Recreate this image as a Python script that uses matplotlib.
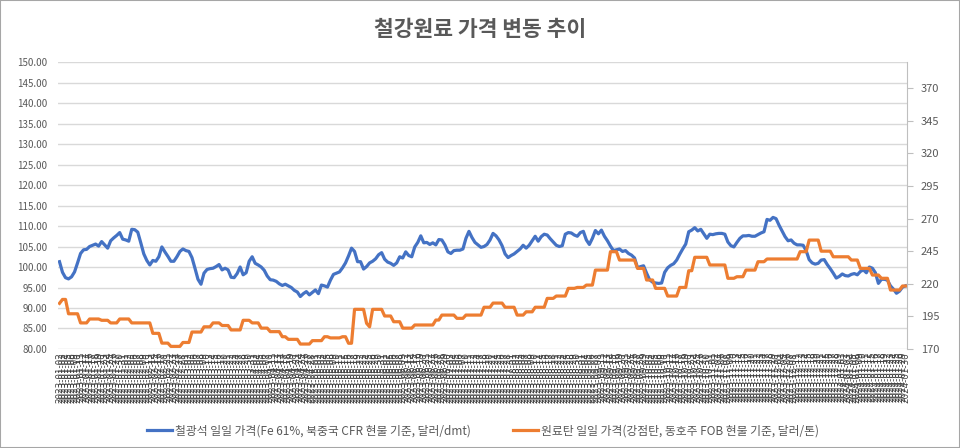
import matplotlib
matplotlib.use('Agg')
import matplotlib.pyplot as plt
import pandas as pd
from matplotlib.patches import Rectangle

plt.rcParams['font.family'] = ['Noto Sans CJK KR', 'DejaVu Sans']

# 일별 날짜 (영업일 기준)
dates = pd.bdate_range('2023-01-02', periods=282)
date_labels = [d.strftime('%Y-%m-%d') for d in dates]

# 철광석 일일 가격 (달러/dmt) - 좌축
iron_ore = [
    101.3, 98.7, 97.4, 97.1, 97.6, 98.8, 101.0, 103.3, 104.2, 104.3,
    105.0, 105.3, 105.6, 105.1, 106.2, 105.4, 104.6, 106.4, 107.1, 107.7,
    108.4, 106.8, 106.6, 106.3, 109.2, 109.1, 108.5, 105.9, 103.2, 101.6,
    100.5, 101.6, 101.4, 102.5, 104.9, 103.7, 102.6, 101.4, 101.4, 102.5,
    103.8, 104.4, 104.0, 103.8, 102.3, 99.7, 97.0, 95.8, 98.5, 99.4,
    99.6, 99.7, 100.1, 100.6, 99.3, 99.7, 99.3, 97.5, 97.4, 98.4,
    100.0, 98.1, 98.6, 101.4, 102.5, 100.9, 100.5, 100.0, 99.2, 97.8,
    96.9, 96.8, 96.5, 95.9, 95.5, 95.8, 95.4, 95.0, 94.3, 93.9,
    92.8, 93.5, 94.0, 93.2, 93.8, 94.4, 93.5, 95.6, 95.4, 95.1,
    96.8, 98.2, 98.5, 98.8, 99.8, 101.0, 102.7, 104.6, 103.8, 101.3,
    101.3, 99.5, 100.1, 101.0, 101.4, 102.0, 103.0, 103.5, 101.9, 101.2,
    100.9, 100.4, 101.0, 102.5, 102.2, 103.7, 102.8, 102.5, 104.9, 106.0,
    107.6, 105.9, 106.0, 105.5, 105.9, 105.4, 106.7, 106.6, 105.4, 103.7,
    103.3, 104.0, 104.1, 104.1, 104.4, 107.0, 108.7, 107.2, 106.0, 105.4,
    104.8, 105.0, 105.5, 106.6, 108.2, 107.6, 106.6, 105.2, 103.2, 102.3,
    102.8, 103.2, 103.8, 104.4, 105.3, 104.6, 105.3, 106.4, 107.5, 106.3,
    107.4, 108.0, 107.8, 106.9, 106.1, 105.3, 105.0, 105.2, 108.0, 108.4,
    108.3, 107.8, 107.5, 108.4, 108.7, 106.6, 105.5, 107.0, 108.9, 108.1,
    109.0, 107.5, 106.4, 105.1, 104.0, 104.2, 104.4, 103.8, 104.0, 103.3,
    102.9, 102.2, 99.8, 100.1, 100.3, 98.5, 96.9, 96.3, 96.1, 96.0,
    96.1, 98.7, 99.8, 100.4, 100.8, 101.7, 103.1, 104.4, 105.6, 108.6,
    109.0, 109.6, 108.8, 109.2, 108.1, 107.0, 108.0, 107.9, 108.1, 108.2,
    108.2, 108.0, 106.1, 105.2, 104.9, 106.0, 107.0, 107.6, 107.6, 107.7,
    107.5, 107.5, 107.9, 108.3, 108.6, 111.6, 111.4, 112.1, 111.8, 110.2,
    108.8, 107.4, 106.4, 106.6, 105.8, 105.4, 105.4, 105.3, 104.0, 101.8,
    101.0, 100.7, 100.9, 101.7, 101.8, 100.6, 99.6, 98.5, 97.3, 97.7,
    98.3, 97.9, 97.8, 98.2, 98.4, 98.1, 98.9, 99.3, 98.6, 100.0,
    99.7, 98.6, 96.0, 97.0, 97.0, 96.8, 95.4, 94.6, 93.6, 94.1,
    95.1, 95.4,
]

# 원료탄 일일 가격 (달러/톤) - 우축
coking_coal = [
    205, 208, 208, 197, 197, 197, 197, 190, 190, 190,
    193, 193, 193, 193, 192, 192, 192, 190, 190, 190,
    193, 193, 193, 193, 190, 190, 190, 190, 190, 190,
    190, 182, 182, 182, 174.5, 174.5, 174.5, 172, 172, 172,
    172, 175, 175, 175, 183, 183, 183, 183, 187, 187,
    187, 190, 190, 190, 188, 188, 188, 184.6, 184.6, 184.6,
    184.6, 192, 192, 192, 190, 190, 190, 186, 186, 186,
    183.3, 183.3, 183.3, 183.3, 179.4, 179.4, 177.4, 177.4, 177.4, 177.4,
    173.8, 173.8, 173.8, 173.8, 176.4, 176.4, 176.4, 176.4, 179.4, 179.4,
    178.5, 178.5, 178.5, 178.5, 179.4, 179.4, 174.4, 174.4, 200.4, 200.4,
    200.4, 200.4, 189.7, 187, 200.4, 200.4, 200.4, 200.4, 195.3, 195.3,
    195.3, 190.9, 190.9, 190.9, 186, 186, 186, 186, 188.4, 188.4,
    188.4, 188.4, 188.4, 188.4, 188.4, 192.2, 192.2, 196, 196, 196,
    196, 196, 193.5, 193.5, 193.5, 196, 196, 196, 196, 196,
    196, 202, 202, 202, 205.2, 205.2, 205.2, 205.2, 202, 202,
    202, 202, 196, 196, 196, 198.5, 198.5, 198.5, 202, 202,
    202, 202, 208.8, 208.8, 208.8, 210.6, 210.6, 210.6, 210.6, 216.5,
    216.5, 216.5, 217.2, 217.2, 217.2, 219, 219, 219, 230.5, 230.5,
    230.5, 230.5, 230.5, 244.6, 244.6, 244.6, 238.2, 238.2, 238.2, 238.2,
    238.2, 238.2, 231.8, 231.8, 231.8, 222.9, 222.9, 222.9, 216.5, 216.5,
    216.5, 216.5, 210.6, 210.6, 210.6, 210.6, 217.2, 217.2, 217.2, 230,
    230, 240.3, 240.3, 240.3, 240.3, 240.3, 234.4, 234.4, 234.4, 234.4,
    234.4, 234.4, 224.2, 224.2, 224.2, 225.4, 225.4, 225.4, 230.5, 230.5,
    230.5, 230.5, 236.9, 236.9, 236.9, 239, 239, 239, 239, 239,
    239, 239, 239, 239, 239, 239, 244.6, 244.6, 244.6, 253.5,
    253.5, 253.5, 253.5, 245, 245, 245, 245, 240.7, 240.7, 240.7,
    240.7, 240.7, 240.7, 238.2, 238.2, 238.2, 231.8, 231.8, 231.8, 231.8,
    226.7, 226.7, 226.7, 224.2, 224.2, 224.2, 215.2, 215.2, 215.2, 215.2,
    218.3, 218.3,
]

left_ticks = [80 + 5 * k for k in range(15)]
right_ticks = [170 + 25 * k for k in range(9)]

title = '철강원료 가격 변동 추이'
label_ore = '철광석 일일 가격(Fe 61%, 북중국 CFR 현물 기준, 달러/dmt)'
label_coal = '원료탄 일일 가격(강점탄, 동호주 FOB 현물 기준, 달러/톤)'

text_gray = '#595959'
grid_gray = '#d9d9d9'

fig = plt.figure(figsize=(9.6, 4.48), dpi=100)
ax1 = fig.add_axes([0.0604, 0.221, 0.8844, 0.6405])
ax2 = ax1.twinx()

x = list(range(len(dates)))
l1, = ax1.plot(x, iron_ore, color='#4472C4', lw=2.3, solid_joinstyle='round', label=label_ore)
l2, = ax2.plot(x, coking_coal, color='#ED7D31', lw=2.3, solid_joinstyle='round', label=label_coal)

ax1.set_xlim(-0.5, len(dates) - 0.5)
ax1.set_ylim(80, 150)
ax1.set_yticks(left_ticks)
ax1.set_yticklabels(['%.2f' % v for v in left_ticks])
ax1.grid(axis='y', color=grid_gray, lw=1)
ax1.set_axisbelow(True)
ax1.tick_params(axis='y', length=0, labelsize=7, labelcolor=text_gray, pad=8)

ax1.set_xticks(x)
ax1.set_xticklabels(date_labels, rotation=90, fontsize=6.3, color='#404040',
                    family='DejaVu Sans')
ax1.tick_params(axis='x', length=0, pad=2)

ax2.set_ylim(170, 390)
ax2.set_yticks(right_ticks)
ax2.tick_params(axis='y', length=4, color='#bfbfbf', labelsize=8, labelcolor=text_gray, pad=6)

for a in (ax1, ax2):
    for side in ('top', 'left', 'bottom'):
        a.spines[side].set_visible(False)
ax1.spines['right'].set_visible(False)
ax2.spines['right'].set_color('#bfbfbf')

fig.text(0.5, 0.935, title, ha='center', va='center', fontsize=15.5,
         fontweight='bold', color=text_gray)

fig.legend([l1, l2], [label_ore, label_coal], loc='center', bbox_to_anchor=(0.503, 0.038),
           ncol=2, frameon=False, fontsize=8.5, labelcolor=text_gray,
           handlelength=2.1, columnspacing=3.6, handletextpad=0.25)

fig.patches.append(Rectangle((0, 0), 1, 1, transform=fig.transFigure, fill=False,
                             edgecolor='#a6a6a6', lw=1.5))

fig.savefig('out.png', dpi=100)
